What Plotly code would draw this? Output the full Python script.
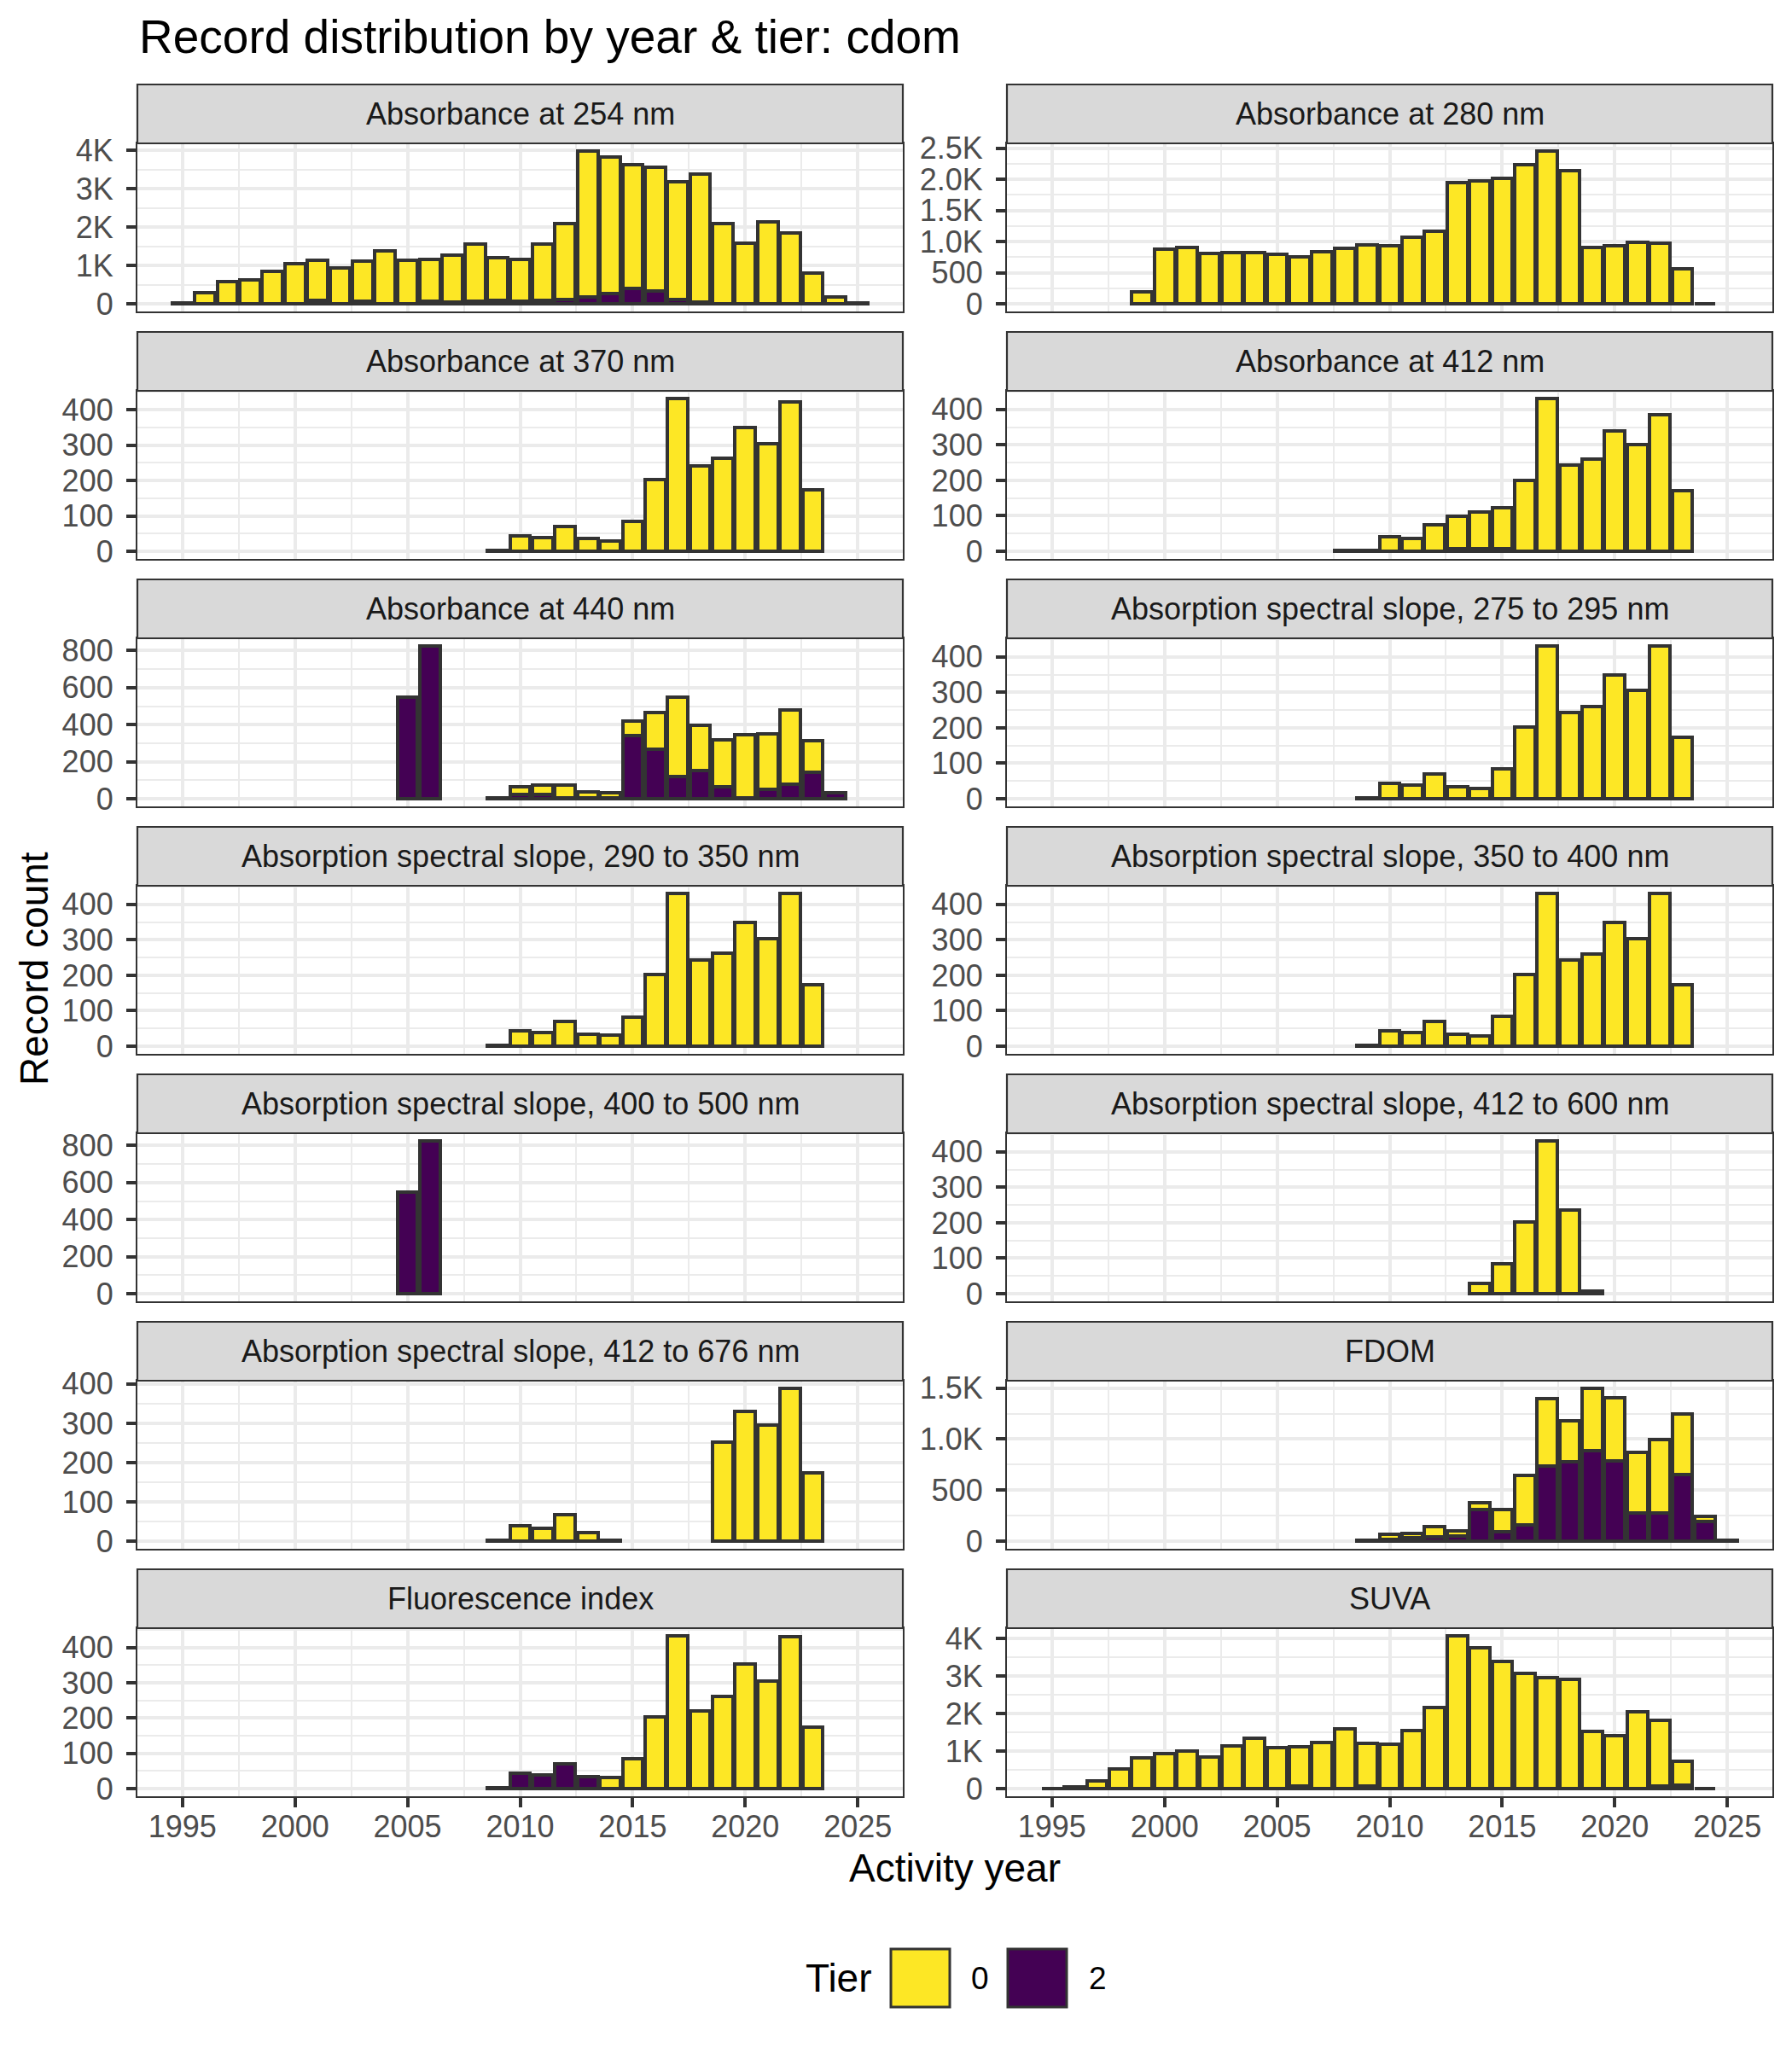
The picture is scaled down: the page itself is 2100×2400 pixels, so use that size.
import plotly.graph_objects as go
from plotly.subplots import make_subplots

# record counts per activity year, split by tier (0 = yellow, 2 = purple)
abs254_years = list(range(1995, 2026))
abs254_t0 = [30, 300, 570, 620, 840, 1035, 1055, 935, 1055, 1385, 1135, 1095, 1215, 1500, 1120, 1105,
             1480, 1980, 3810, 3560, 3220, 3210, 3065, 3340, 2080, 1590, 2130, 1840, 805, 190, 20]
abs254_t2 = [0, 0, 0, 0, 0, 0, 80, 0, 60, 0, 0, 70, 50, 60, 80, 60,
             80, 120, 170, 260, 410, 340, 110, 40, 0, 0, 0, 0, 0, 0, 0]

abs280_years = list(range(1999, 2025))
abs280_t0 = [192, 877, 910, 804, 818, 818, 791, 754, 836, 891, 946, 937, 1065, 1165, 1952, 1979,
             2016, 2235, 2454, 2143, 900, 937, 992, 978, 567, 5]
abs280_t2 = None

abs370_years = list(range(2009, 2024))
abs370_t0 = [3, 44, 39, 69, 36, 30, 84, 203, 432, 242, 262, 351, 305, 423, 175]
abs370_t2 = None

abs412_years = list(range(2008, 2024))
abs412_t0 = [2, 2, 41, 37, 75, 91, 104, 114, 200, 431, 242, 259, 339, 300, 384, 172]
abs412_t2 = [0, 0, 0, 0, 0, 8, 8, 8, 0, 0, 0, 0, 0, 0, 0, 0]

abs440_years = [2005, 2006, 2009, 2010, 2011, 2012, 2013, 2014, 2015, 2016, 2017, 2018, 2019, 2020,
                2021, 2022, 2023, 2024]
abs440_t0 = [0, 0, 0, 45, 47, 69, 34, 28, 81, 196, 430, 244, 256, 344, 300, 401, 173, 0]
abs440_t2 = [547, 825, 5, 22, 25, 3, 3, 3, 340, 268, 120, 153, 64, 4, 51, 77, 141, 31]

s275_years = list(range(2009, 2024))
s275_t0 = [2, 43, 39, 71, 34, 30, 84, 203, 431, 244, 261, 350, 305, 431, 174]
s275_t2 = None

s290_years = list(range(2009, 2024))
s290_t0 = [2, 43, 39, 69, 35, 31, 83, 202, 431, 243, 262, 349, 304, 431, 173]
s290_t2 = None

s350_years = list(range(2009, 2024))
s350_t0 = [2, 43, 38, 70, 33, 29, 84, 202, 431, 243, 261, 349, 304, 430, 173]
s350_t2 = None

s400_years = [2005, 2006]
s400_t0 = None
s400_t2 = [547, 825]

s412a_years = list(range(2014, 2020))
s412a_t0 = [29, 84, 203, 431, 237, 8]
s412a_t2 = None

s412b_years = [2009, 2010, 2011, 2012, 2013, 2014, 2019, 2020, 2021, 2022, 2023]
s412b_t0 = [2, 39, 33, 68, 22, 3, 252, 330, 296, 389, 173]
s412b_t2 = None

fdom_years = list(range(2009, 2026))
fdom_t0 = [0, 52, 48, 100, 53, 69, 214, 487, 654, 409, 609, 612, 598, 723, 593, 50, 0]
fdom_t2 = [5, 15, 30, 45, 50, 309, 95, 156, 740, 774, 888, 790, 273, 273, 651, 189, 10]

fi_years = list(range(2009, 2024))
fi_t0 = [0, 0, 0, 0, 0, 31, 85, 203, 433, 221, 262, 352, 305, 431, 173]
fi_t2 = [2, 43, 39, 71, 35, 0, 0, 0, 0, 0, 0, 0, 0, 0, 0]

suva_years = list(range(1995, 2025))
suva_t0 = [10, 50, 200, 520, 830, 940, 1000, 850, 1130, 1340, 1090, 1045, 1235, 1590, 1135, 1190,
           1550, 2160, 4070, 3750, 3380, 3080, 2950, 2920, 1520, 1400, 2040, 1730, 635, 10]
suva_t2 = [0, 0, 0, 0, 0, 0, 0, 0, 0, 0, 0, 60, 0, 0, 70, 0,
           0, 0, 0, 0, 0, 0, 0, 0, 0, 0, 0, 80, 100, 0]

panels = [
    ("Absorbance at 254 nm", abs254_years, abs254_t0, abs254_t2, 1000),
    ("Absorbance at 280 nm", abs280_years, abs280_t0, abs280_t2, 500),
    ("Absorbance at 370 nm", abs370_years, abs370_t0, abs370_t2, 100),
    ("Absorbance at 412 nm", abs412_years, abs412_t0, abs412_t2, 100),
    ("Absorbance at 440 nm", abs440_years, abs440_t0, abs440_t2, 200),
    ("Absorption spectral slope, 275 to 295 nm", s275_years, s275_t0, s275_t2, 100),
    ("Absorption spectral slope, 290 to 350 nm", s290_years, s290_t0, s290_t2, 100),
    ("Absorption spectral slope, 350 to 400 nm", s350_years, s350_t0, s350_t2, 100),
    ("Absorption spectral slope, 400 to 500 nm", s400_years, s400_t0, s400_t2, 200),
    ("Absorption spectral slope, 412 to 600 nm", s412a_years, s412a_t0, s412a_t2, 100),
    ("Absorption spectral slope, 412 to 676 nm", s412b_years, s412b_t0, s412b_t2, 100),
    ("FDOM", fdom_years, fdom_t0, fdom_t2, 500),
    ("Fluorescence index", fi_years, fi_t0, fi_t2, 100),
    ("SUVA", suva_years, suva_t0, suva_t2, 1000),
]

YEAR_TICKS = [1995, 2000, 2005, 2010, 2015, 2020, 2025]
TIER_COLORS = {"0": "#FDE725", "2": "#440154"}

W, H = 2100, 2400
FONT = "Liberation Sans"
GRID = "#EBEBEB"
DARK = "#333333"

col_x = [(161, 1058), (1180, 2077)]
top0, pitch, strip_h, panel_h = 99, 290, 69, 266


def k_label(v, step):
    if v < 1000:
        return str(v)
    if step % 1000 == 0:
        return f"{v // 1000}K"
    return f"{v / 1000:.1f}K"


fig = make_subplots(rows=7, cols=2)
shapes = []
annotations = []

for k, (title, years, t0, t2, step) in enumerate(panels):
    row, col = k // 2 + 1, k % 2 + 1
    r = row - 1
    x0, x1 = col_x[col - 1]
    t = top0 + pitch * r

    totals = [0] * len(years)
    for series in (t2, t0):
        if series is not None:
            totals = [a + b for a, b in zip(totals, series)]
    ymax = max(totals)

    for tier, series in (("2", t2), ("0", t0)):
        if series is None:
            continue
        fig.add_trace(go.Bar(
            x=years, y=[v if v else None for v in series], width=0.9,
            marker=dict(color=TIER_COLORS[tier], line=dict(color=DARK, width=4)),
            name=tier, showlegend=False, hoverinfo="skip"), row=row, col=col)

    yrange = [-0.05 * ymax, 1.05 * ymax]
    majors = list(range(0, int(yrange[1]) + 1, step))
    minors = [m + step / 2 for m in [-step] + majors if yrange[0] < m + step / 2 < yrange[1]]

    bottom = row == 7
    fig.update_xaxes(
        domain=[x0 / W, x1 / W], range=[1993.0, 2027.0], automargin=False,
        tickvals=YEAR_TICKS, showticklabels=bottom, ticks="outside" if bottom else "",
        ticklen=11, tickwidth=4, tickcolor=DARK, ticklabelstandoff=-8,
        tickfont=dict(family=FONT, size=36, color="#4D4D4D"),
        showgrid=True, gridcolor=GRID, gridwidth=3.5, zeroline=False,
        minor=dict(tickvals=[y + 2.5 for y in YEAR_TICKS[:-1]] + [1992.5, 2027.5],
                   showgrid=True, gridcolor=GRID, gridwidth=1.8, ticks=""),
        showline=True, mirror=True, linecolor=DARK, linewidth=2.2,
        row=row, col=col)
    fig.update_yaxes(
        domain=[1 - (t + panel_h) / H, 1 - (t + strip_h) / H], range=yrange, automargin=False,
        tickvals=majors, ticktext=[k_label(v, step) for v in majors],
        ticks="outside", ticklen=11, tickwidth=4, tickcolor=DARK, ticklabelstandoff=8,
        tickfont=dict(family=FONT, size=36, color="#4D4D4D"),
        showgrid=True, gridcolor=GRID, gridwidth=3.5, zeroline=False,
        minor=dict(tickvals=minors, showgrid=True, gridcolor=GRID, gridwidth=1.8, ticks=""),
        showline=True, mirror=True, linecolor=DARK, linewidth=2.2,
        row=row, col=col)

    # facet strip
    shapes.append(dict(type="rect", xref="paper", yref="paper",
                       x0=x0 / W, x1=x1 / W, y0=1 - (t + strip_h) / H, y1=1 - t / H,
                       fillcolor="#D9D9D9", line=dict(color=DARK, width=2.2), layer="above"))
    annotations.append(dict(text=title, xref="paper", yref="paper",
                            x=(x0 + x1) / 2 / W, y=1 - (t + strip_h / 2) / H,
                            xanchor="center", yanchor="middle", showarrow=False,
                            font=dict(family=FONT, size=36, color="#1A1A1A")))

# titles
annotations.append(dict(text="Record distribution by year & tier: cdom", xref="paper", yref="paper",
                        x=161 / W, y=1 - 43 / H, xanchor="left", yanchor="middle", showarrow=False,
                        font=dict(family=FONT, size=55, color="black")))
annotations.append(dict(text="Activity year", xref="paper", yref="paper",
                        x=1119 / W, y=1 - 2189 / H, xanchor="center", yanchor="middle",
                        showarrow=False, font=dict(family=FONT, size=46, color="black")))
annotations.append(dict(text="Record count", xref="paper", yref="paper", textangle=-90,
                        x=40 / W, y=1 - 1135 / H, xanchor="center", yanchor="middle",
                        showarrow=False, font=dict(family=FONT, size=46, color="black")))

# legend drawn by hand
legend_y = 2318
annotations.append(dict(text="Tier", xref="paper", yref="paper", x=942 / W, y=1 - legend_y / H,
                        xanchor="left", yanchor="middle", showarrow=False,
                        font=dict(family=FONT, size=46, color="black")))
for tier, kx, tx in (("0", 1044, 1136), ("2", 1181, 1274)):
    shapes.append(dict(type="rect", xref="paper", yref="paper",
                       x0=kx / W, x1=(kx + 69) / W, y0=1 - (legend_y + 34) / H,
                       y1=1 - (legend_y - 34) / H,
                       fillcolor=TIER_COLORS[tier], line=dict(color=DARK, width=3)))
    annotations.append(dict(text=tier, xref="paper", yref="paper", x=tx / W, y=1 - legend_y / H,
                            xanchor="left", yanchor="middle", showarrow=False,
                            font=dict(family=FONT, size=37, color="black")))

fig.update_layout(
    template="none",
    width=W, height=H, autosize=False,
    margin=dict(l=0, r=0, t=0, b=0, pad=0, autoexpand=False),
    barmode="stack", bargap=0,
    plot_bgcolor="white", paper_bgcolor="white",
    shapes=shapes, annotations=annotations,
    showlegend=False,
    font=dict(family=FONT),
)

# pin the plot to the page corner so the page margin does not shift it
pin = ("document.body.style.margin='0';document.body.style.overflow='hidden';"
       "var gd=document.getElementById('{plot_id}');"
       "gd.style.position='absolute';gd.style.top='0px';gd.style.left='0px';")
fig.write_html("out.html", post_script=pin, config={"displayModeBar": False})
